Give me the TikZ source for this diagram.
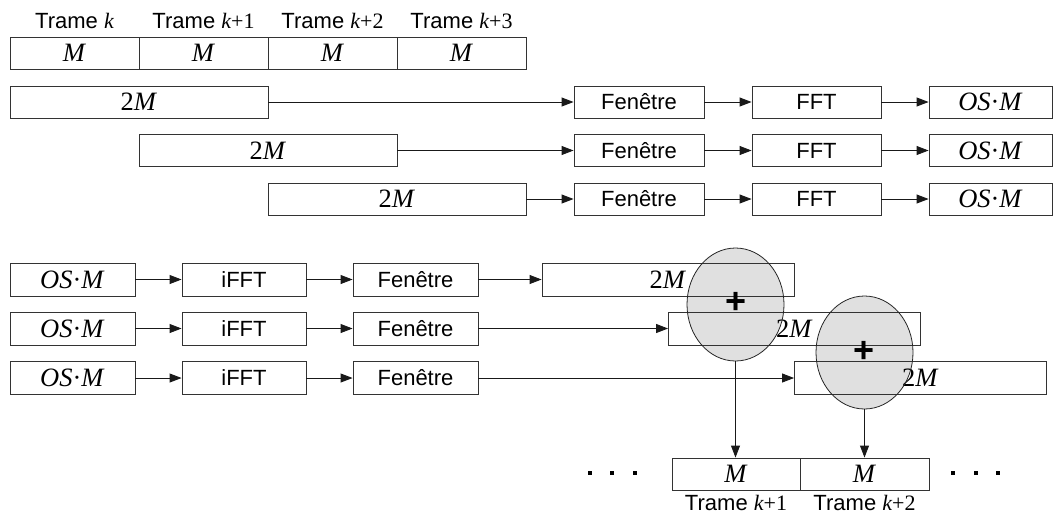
\documentclass[tikz,border=0pt]{standalone}
\usepackage{fontspec}
\setmainfont{Liberation Serif}
\setsansfont{Liberation Sans}
\usetikzlibrary{arrows.meta,shapes.geometric}
\begin{document}
\begin{tikzpicture}[x=1pt,y=-1pt,
  box/.style={draw=black!80, line width=0.9pt, inner sep=0pt, anchor=center},
  mt/.style={font=\fontsize{26.5}{30}\selectfont\rmfamily},
  st/.style={font=\fontsize{22}{25}\selectfont\sffamily},
  arr/.style={-{Triangle[length=12pt,width=9pt]}, line width=0.9pt, draw=black!90},
  sumell/.style={fill=black!12, ellipse, inner sep=0pt,
    minimum width=97pt, minimum height=113pt},
  dot/.style={fill=black, inner sep=0pt, minimum size=4.5pt},
  plus/.style={font=\fontsize{36}{38}\selectfont\sffamily\bfseries, inner sep=0pt},
]
\useasboundingbox (0,0) rectangle (1054,515);

% summation ellipses: fill first, boxes pass over them
\node[sumell] (e1) at (735.5,304.5) {};
\node[sumell] (e2) at (864.5,352.5) {};

% top frame labels and M boxes
\node[st] (l1) at (74.5,21) {Trame {\rmfamily\itshape k}};
\node[st] (l2) at (203.5,21) {Trame {\rmfamily\itshape k}{\rmfamily +1}};
\node[st] (l3) at (332.5,21) {Trame {\rmfamily\itshape k}{\rmfamily +2}};
\node[st] (l4) at (461.5,21) {Trame {\rmfamily\itshape k}{\rmfamily +3}};
\node[box,mt,minimum width=129pt,minimum height=32pt] (m1) at (74.5,53) {\textit{M}};
\node[box,mt,minimum width=129pt,minimum height=32pt] (m2) at (203.5,53) {\textit{M}};
\node[box,mt,minimum width=129pt,minimum height=32pt] (m3) at (332.5,53) {\textit{M}};
\node[box,mt,minimum width=129pt,minimum height=32pt] (m4) at (461.5,53) {\textit{M}};

% analysis rows
\node[box,mt,minimum width=258pt,minimum height=32pt] (a1) at (139,102) {2\textit{M}};
\node[box,mt,minimum width=258pt,minimum height=32pt] (a2) at (268,150.5) {2\textit{M}};
\node[box,mt,minimum width=258pt,minimum height=32pt] (a3) at (397,199) {2\textit{M}};

\foreach \i/\y in {1/102,2/150.5,3/199}{
  \node[box,st,minimum width=130pt,minimum height=32pt] (w\i) at (639,\y) {Fenêtre};
  \node[box,st,minimum width=129pt,minimum height=32pt] (f\i) at (816.5,\y) {FFT};
  \node[box,mt,minimum width=123pt,minimum height=32pt] (o\i) at (990.5,\y) {\textit{OS}·\textit{M}};
  \draw[arr] (a\i.east) -- (w\i.west);
  \draw[arr] (w\i.east) -- (f\i.west);
  \draw[arr] (f\i.east) -- (o\i.west);
}

% synthesis rows
\foreach \i/\y/\x in {1/279.5/668,2/328.5/794.5,3/378/920.5}{
  \node[box,mt,minimum width=125pt,minimum height=33pt] (p\i) at (72.5,\y) {\textit{OS}·\textit{M}};
  \node[box,st,minimum width=124pt,minimum height=33pt] (i\i) at (244,\y) {iFFT};
  \node[box,st,minimum width=125pt,minimum height=33pt] (v\i) at (415.5,\y) {Fenêtre};
  \node[box,mt,minimum width=252pt,minimum height=33pt] (s\i) at (\x,\y) {2\textit{M}};
  \draw[arr] (p\i.east) -- (i\i.west);
  \draw[arr] (i\i.east) -- (v\i.west);
  \draw[arr] (v\i.east) -- (s\i.west);
}

% ellipse outlines on top, plus signs
\draw[draw=black!85, line width=0.8pt] (e1.center) ellipse [x radius=48.5pt, y radius=56.5pt];
\draw[draw=black!85, line width=0.8pt] (e2.center) ellipse [x radius=48.5pt, y radius=56.5pt];
\node[plus] (pl1) at (736,303) {+};
\node[plus] (pl2) at (864,352) {+};

% output frames
\node[box,mt,minimum width=128pt,minimum height=32pt] (b1) at (736,474) {\textit{M}};
\node[box,mt,minimum width=129pt,minimum height=32pt] (b2) at (864.5,474) {\textit{M}};
\draw[arr] (e1.south) -- (e1.south |- b1.north);
\draw[arr] (e2.south) -- (e2.south |- b2.north);
\node[st] (bl1) at (736,503) {Trame {\rmfamily\itshape k}{\rmfamily +1}};
\node[st] (bl2) at (864.5,503) {Trame {\rmfamily\itshape k}{\rmfamily +2}};

% ellipsis dots
\foreach \x [count=\j] in {590,612,635}{\node[dot] (dl\j) at (\x,473) {};}
\foreach \x [count=\j] in {953,976,998}{\node[dot] (dr\j) at (\x,473) {};}
\end{tikzpicture}
\end{document}
